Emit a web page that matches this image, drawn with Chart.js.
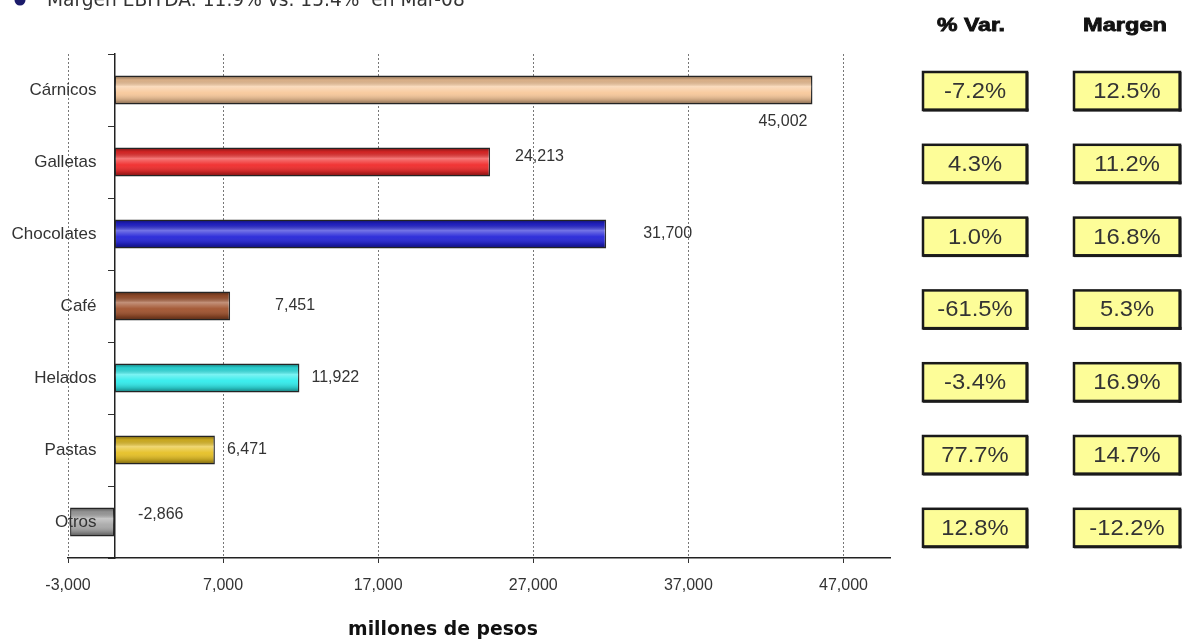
<!DOCTYPE html>
<html><head><meta charset="utf-8">
<script src="https://cdn.jsdelivr.net/npm/chart.js@4.4.0/dist/chart.umd.min.js"></script>
<style>html,body{margin:0;padding:0;background:#fff;}#wrap{width:1192px;height:642px;}</style>
</head><body><div id="wrap"><canvas id="c" width="1192" height="642"></canvas></div>
<script>
const categories = ['Cárnicos','Galletas','Chocolates','Café','Helados','Pastas','Otros'];
const ebitda = [45002, 24213, 31700, 7451, 11922, 6471, -2866];
const pctVar = [-7.2, 4.3, 1.0, -61.5, -3.4, 77.7, 12.8];
const margen = [12.5, 11.2, 16.8, 5.3, 16.9, 14.7, -12.2];
const xTickValues = [-3000, 7000, 17000, 27000, 37000, 47000];
const headerVar = '% Var.';
const headerMargen = 'Margen';
const titleText = 'Margen EBITDA: 11.9% vs. 15.4%  en Mar-08';
const axisTitle = 'millones de pesos';

const barColors = ['#F8C89A','#F02A2A','#2424D8','#A0522D','#30ECEC','#E6C024','#A8A8A8'];
const valueLabelOffsets = [[-5,32,'right'],[25,-5,'left'],[37,0,'left'],[45,0,'left'],[12,0,'left'],[12,0,'left'],[68,-7,'left']];
const FONT = "'Liberation Sans', Arial, sans-serif";

const fmtNum = v => v.toLocaleString('en-US');
const fmtPct = v => v.toFixed(1) + '%';

function fitFont(ctx, text, weight, family, targetW, base){
  ctx.font = weight + ' ' + base + 'px ' + family;
  const w = ctx.measureText(text).width;
  const s = base * targetW / w;
  ctx.font = weight + ' ' + s.toFixed(2) + 'px ' + family;
}
function stretchText(ctx, text, cx, cy, targetW, heavy){
  const w = ctx.measureText(text).width;
  ctx.save();
  ctx.translate(cx, cy);
  ctx.scale(targetW / w, 1);
  ctx.textAlign = 'center'; ctx.textBaseline = 'middle';
  if (heavy) { ctx.lineWidth = 0.8; ctx.strokeStyle = ctx.fillStyle; ctx.strokeText(text, 0, 0); }
  ctx.fillText(text, 0, 0);
  ctx.restore();
}

const decor = {
  id: 'decor',
  afterDatasetsDraw(chart){
    const ctx = chart.ctx;
    const meta = chart.getDatasetMeta(0);
    meta.data.forEach((bar, i) => {
      const {x, y, base, height} = bar.getProps(['x','y','base','height'], true);
      const left = Math.min(x, base), right = Math.max(x, base);
      const top = y - height/2, bottom = y + height/2;
      const g = ctx.createLinearGradient(0, top, 0, bottom);
      g.addColorStop(0, 'rgba(0,0,0,0.5)');
      g.addColorStop(0.15, 'rgba(0,0,0,0.12)');
      g.addColorStop(0.38, 'rgba(255,255,255,0.36)');
      g.addColorStop(0.6, 'rgba(255,255,255,0.05)');
      g.addColorStop(0.85, 'rgba(0,0,0,0.2)');
      g.addColorStop(1, 'rgba(0,0,0,0.5)');
      ctx.save();
      ctx.fillStyle = g;
      ctx.fillRect(left + 1, top + 1, right - left - 2, height - 2);
      ctx.restore();
      const off = valueLabelOffsets[i];
      ctx.save();
      ctx.font = '16px ' + FONT;
      ctx.fillStyle = '#333';
      ctx.textAlign = off[2];
      ctx.textBaseline = 'middle';
      ctx.fillText(fmtNum(ebitda[i]), x + off[0], y + off[1]);
      ctx.restore();
    });
  },
  afterDraw(chart){
    const ctx = chart.ctx;
    const yScale = chart.scales.y, xScale = chart.scales.x;
    ctx.save();
    ctx.font = '17px ' + FONT;
    ctx.fillStyle = '#333';
    ctx.textAlign = 'right'; ctx.textBaseline = 'middle';
    const x0 = xScale.getPixelForValue(0);
    categories.forEach((c, i) => ctx.fillText(c, x0 - 18, yScale.getPixelForValue(i)));
    ctx.fillStyle = '#1b1b6a';
    ctx.beginPath(); ctx.arc(20, 0, 5.5, 0, Math.PI*2); ctx.fill();
    ctx.fillStyle = '#333';
    ctx.textAlign = 'left'; ctx.textBaseline = 'alphabetic';
    fitFont(ctx, titleText, 'normal', "'DejaVu Sans', sans-serif", 418, 22);
    ctx.fillText(titleText, 47, 6);
    ctx.fillStyle = '#111';
    ctx.textAlign = 'center'; ctx.textBaseline = 'middle';
    fitFont(ctx, axisTitle, 'bold', "'DejaVu Sans', sans-serif", 190, 18);
    ctx.fillText(axisTitle, 443, 630);
    ctx.font = 'bold 18px ' + FONT;
    ctx.fillStyle = '#111';
    stretchText(ctx, headerVar, 971, 26, 68, true);
    stretchText(ctx, headerMargen, 1125, 26, 84, true);
    const drawBox = (cx, cy, w, h, text) => {
      const l = cx - w/2, t = cy - h/2;
      ctx.fillStyle = '#FDFD98';
      ctx.fillRect(l, t, w, h);
      ctx.strokeStyle = '#1a1a1a';
      ctx.lineWidth = 2.5;
      ctx.strokeRect(l, t, w, h);
      ctx.fillStyle = '#1a1a1a';
      ctx.fillRect(l, t + h - 1.5, w + 1.5, 3);
      ctx.fillRect(l + w - 1.5, t, 3, h + 1.5);
      ctx.fillStyle = '#333';
      ctx.font = '22px ' + FONT;
      stretchText(ctx, text, cx, cy + 1, ctx.measureText(text).width * 1.08, false);
    };
    categories.forEach((c, i) => {
      const cy = yScale.getPixelForValue(i) + 1 + i * 0.8;
      drawBox(975, cy, 104, 38, fmtPct(pctVar[i]));
      drawBox(1127, cy, 106, 38, fmtPct(margen[i]));
    });
    ctx.restore();
  }
};

new Chart(document.getElementById('c'), {
  type: 'bar',
  data: {
    labels: categories,
    datasets: [{
      data: ebitda,
      backgroundColor: barColors,
      borderColor: '#2b2b2b',
      borderWidth: 1.5,
      borderSkipped: false,
      categoryPercentage: 1,
      barPercentage: 0.4
    }]
  },
  options: {
    indexAxis: 'y',
    responsive: false,
    animation: false,
    events: [],
    layout: { padding: { left: 68, top: 54, right: 302, bottom: 48 } },
    plugins: { legend: { display: false }, tooltip: { enabled: false }, title: { display: false } },
    scales: {
      x: {
        type: 'linear',
        min: -3000,
        max: 50000,
        afterBuildTicks: s => { s.ticks = xTickValues.map(v => ({ value: v })); },
        afterFit: s => { s.height = 36; },
        grid: { color: '#777', lineWidth: 1, tickColor: '#333', tickLength: 5, tickBorderDash: [] },
        border: { display: true, color: '#222', width: 1.5, dash: [2, 2] },
        ticks: { color: '#333', font: { family: FONT, size: 16 }, padding: 13, callback: v => fmtNum(v), maxRotation: 0 }
      },
      y: {
        position: { x: 0 },
        z: 1,
        grid: { drawOnChartArea: false, drawTicks: true, tickLength: 6, color: '#333', tickColor: '#333', offset: true },
        border: { display: true, color: '#222', width: 1.5 },
        ticks: { display: false }
      }
    }
  },
  plugins: [decor]
});
</script>
</body></html>
